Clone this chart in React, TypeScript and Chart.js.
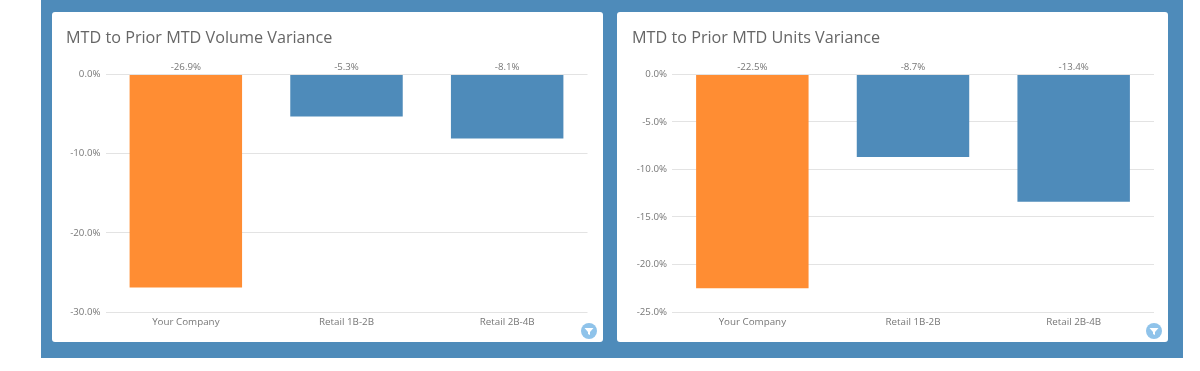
import React, { useEffect, useRef } from "react";
import { Chart, registerables } from "chart.js";

Chart.register(...registerables);

const categories = ["Your Company", "Retail 1B-2B", "Retail 2B-4B"];
const volumeVariance = [-26.9, -5.3, -8.1];
const unitsVariance = [-22.5, -8.7, -13.4];
const barColors = ["#FF8D33", "#4E8BBA", "#4E8BBA"];
const FONT = "'Open Sans', sans-serif";

const valueLabels = {
  id: "valueLabels",
  afterDatasetsDraw(chart: any) {
    const { ctx } = chart;
    const meta = chart.getDatasetMeta(0);
    const y0 = chart.scales.y.getPixelForValue(0);
    ctx.save();
    ctx.font = `9.7px ${FONT}`;
    ctx.fillStyle = "#777";
    ctx.textAlign = "center";
    ctx.textBaseline = "bottom";
    meta.data.forEach((bar: any, i: number) => {
      ctx.fillText(chart.data.datasets[0].data[i].toFixed(1) + "%", bar.x, y0 - 2);
    });
    ctx.restore();
  },
};

function Card(props: {
  left: number; title: string; values: number[]; min: number; step: number;
  padLeft: number; axisWidth: number; padRight: number;
}) {
  const ref = useRef<HTMLCanvasElement>(null);
  useEffect(() => {
    const chart = new Chart(ref.current!, {
      type: "bar",
      plugins: [valueLabels],
      data: {
        labels: categories,
        datasets: [{ data: props.values, backgroundColor: barColors, categoryPercentage: 0.7, barPercentage: 1 }],
      },
      options: {
        animation: false,
        responsive: false,
        layout: { padding: { left: props.padLeft, right: props.padRight, top: 0, bottom: 0 } },
        plugins: {
          legend: { display: false },
          tooltip: { enabled: false },
          title: {
            display: true,
            text: props.title,
            align: "start",
            color: "#666",
            font: { family: FONT, size: 16.2, weight: "normal" },
            padding: { top: 17, bottom: 26 },
          },
        },
        scales: {
          x: {
            grid: { display: false },
            border: { display: false },
            ticks: { color: "#777", font: { family: FONT, size: 9.8 }, padding: -4, maxRotation: 0 },
            afterFit: (s: any) => { s.height = 30; },
          },
          y: {
            min: props.min,
            max: 0,
            grid: { color: "#E3E3E3", drawTicks: false },
            border: { display: false },
            ticks: {
              stepSize: props.step,
              color: "#777",
              font: { family: FONT, size: 9.7 },
              padding: 5,
              callback: (v: any) => Number(v).toFixed(1) + "%",
            },
            afterFit: (s: any) => { s.width = props.axisWidth; },
          },
        },
      },
    } as any);
    return () => chart.destroy();
  }, []);
  return (
    <div style={{ position: "absolute", left: props.left, top: 12, width: 551, height: 330, background: "#fff", borderRadius: 3 }}>
      <canvas ref={ref} width={551} height={330} style={{ display: "block" }} />
      <div style={{ position: "absolute", right: 6, bottom: 3, width: 16, height: 16, borderRadius: 8, background: "#8FC3EA" }}>
        <svg width="16" height="16" viewBox="0 0 16 16">
          <path d="M3.5 5 H12.5 L9 9 V12 L7 11 V9 Z" fill="#fff" />
        </svg>
      </div>
    </div>
  );
}

export default function App() {
  return (
    <div style={{ position: "fixed", left: 0, top: 0, width: 1200, height: 371, background: "#fff", overflow: "hidden", filter: "blur(0.5px)" }}>
      <div style={{ position: "absolute", left: 41, top: 0, width: 1142, height: 358, background: "#4E8BBA" }} />
      <Card left={52} title="MTD to Prior MTD Volume Variance" values={volumeVariance} min={-30} step={10} padLeft={14} axisWidth={39.5} padRight={15.5} />
      <Card left={617} title="MTD to Prior MTD Units Variance" values={unitsVariance} min={-25} step={5} padLeft={15} axisWidth={40} padRight={14} />
    </div>
  );
}
